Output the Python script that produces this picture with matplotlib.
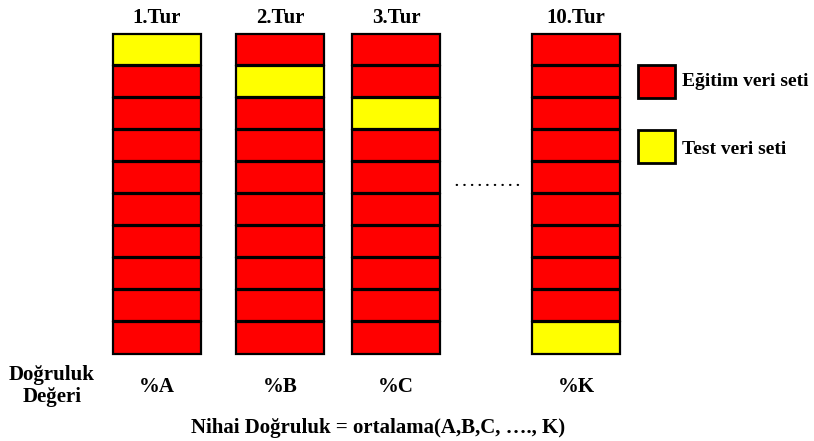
import matplotlib.pyplot as plt

# Columns (rounds) of the 10-fold cross validation sketch
rounds = ['1.Tur', '2.Tur', '3.Tur', '10.Tur']
test_fold = [0, 1, 2, 9]          # which cell (from top) is the test set
accuracy = ['%A', '%B', '%C', '%K']
n_folds = 10

col_left = [113, 236, 352, 532]
col_w = 88
top, bottom = 33, 354
cell_h = (bottom - top) / n_folds

red = '#ff0000'
yellow = '#ffff00'
fs = 15

plt.rcParams['font.family'] = ['Liberation Serif', 'DejaVu Serif']

fig = plt.figure(figsize=(8.14, 4.41), dpi=100)
ax = fig.add_axes([0, 0, 1, 1])
ax.set_xlim(0, 814)
ax.set_ylim(441, 0)
ax.axis('off')

for k in range(len(rounds)):
    colors = [yellow if i == test_fold[k] else red for i in range(n_folds)]
    bottoms = [top + i * cell_h + 0.5 for i in range(n_folds)]
    ax.bar([col_left[k]] * n_folds, [cell_h - 1.0] * n_folds, bottom=bottoms,
           width=col_w, align='edge', color=colors, edgecolor='black', linewidth=1.6)
    cx = col_left[k] + col_w / 2
    ax.text(cx, 18, rounds[k], ha='center', va='center', fontsize=fs, fontweight='bold')
    ax.text(cx, 387, accuracy[k], ha='center', va='center', fontsize=fs, fontweight='bold')

# dots between 3rd and 10th round
ax.text(487, 182, '. . . . . . . . .', ha='center', va='center', fontsize=11, fontweight='bold')

# legend
ax.bar([638], [33], bottom=[65], width=37, align='edge', color=red,
       edgecolor='black', linewidth=2)
ax.bar([638], [33], bottom=[130], width=37, align='edge', color=yellow,
       edgecolor='black', linewidth=2)
ax.text(682, 82, 'Eğitim veri seti', ha='left', va='center', fontsize=14, fontweight='bold')
ax.text(682, 149, 'Test veri seti', ha='left', va='center', fontsize=14, fontweight='bold')

# bottom labels
ax.text(52, 375, 'Doğruluk', ha='center', va='center', fontsize=fs, fontweight='bold')
ax.text(52, 397, 'Değeri', ha='center', va='center', fontsize=fs, fontweight='bold')
ax.text(378, 428, 'Nihai Doğruluk = ortalama(A,B,C, …., K)', ha='center', va='center',
        fontsize=fs, fontweight='bold')

fig.savefig('out.png', dpi=100)
